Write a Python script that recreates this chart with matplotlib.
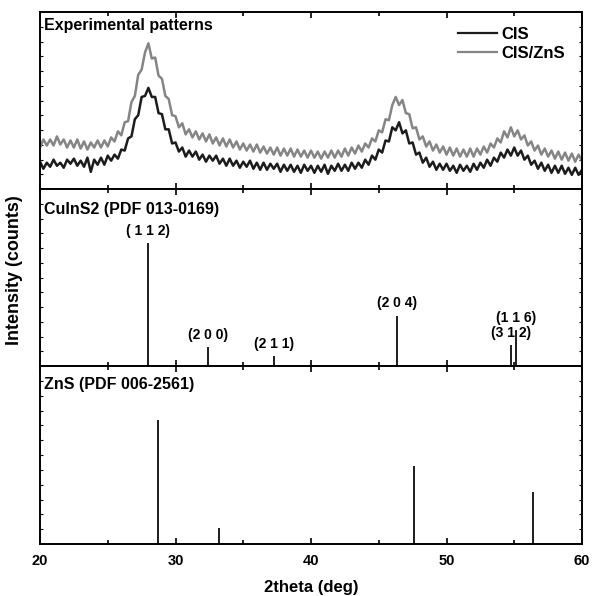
import numpy as np
import matplotlib
matplotlib.use("Agg")
import matplotlib.pyplot as plt
from matplotlib.ticker import MultipleLocator, NullFormatter

plt.rcParams["font.family"] = ["Liberation Sans", "DejaVu Sans"]

# scan axis of the measured patterns (0.25 deg step)
TWO_THETA = np.arange(20.0, 60.0 + 0.001, 0.25)

CIS = [
    27, 20, 26, 22, 29, 23, 26, 21, 29, 25, 30, 23, 28, 22, 31, 17,
    29, 24, 31, 24, 33, 28, 34, 30, 39, 38, 50, 52, 69, 73, 91, 92,
    100, 91, 91, 75, 74, 59, 59, 45, 46, 37, 41, 32, 38, 32, 37, 29,
    34, 27, 33, 28, 33, 25, 30, 23, 30, 23, 28, 21, 27, 22, 28, 20,
    26, 19, 26, 19, 25, 20, 25, 17, 24, 18, 24, 17, 23, 16, 24, 18,
    23, 16, 23, 17, 24, 15, 23, 18, 25, 18, 24, 18, 26, 20, 26, 21,
    29, 24, 33, 29, 39, 36, 48, 47, 61, 58, 66, 55, 58, 45, 46, 34,
    36, 26, 31, 22, 27, 19, 25, 19, 25, 18, 23, 16, 24, 18, 23, 17,
    25, 19, 26, 21, 29, 23, 31, 27, 36, 31, 39, 33, 41, 33, 38, 29,
    33, 24, 28, 20, 26, 18, 24, 16, 23, 16, 23, 15, 21, 14, 21, 14,
    19,
]

CIS_ZNS = [
    41, 49, 43, 49, 43, 52, 44, 49, 41, 48, 41, 49, 40, 47, 39, 46,
    41, 48, 41, 48, 42, 51, 47, 57, 53, 66, 67, 86, 92, 113, 118, 135,
    144, 129, 130, 112, 109, 92, 89, 73, 72, 61, 65, 54, 59, 51, 57, 49,
    55, 47, 54, 45, 51, 43, 50, 42, 49, 41, 47, 39, 45, 38, 44, 37,
    44, 36, 42, 35, 41, 34, 41, 33, 40, 33, 40, 32, 39, 32, 38, 31,
    38, 31, 37, 30, 37, 31, 38, 31, 38, 32, 40, 33, 41, 35, 43, 37,
    45, 41, 50, 47, 58, 56, 69, 68, 83, 91, 83, 88, 75, 74, 60, 61,
    49, 52, 42, 47, 38, 44, 36, 42, 34, 41, 33, 40, 32, 39, 32, 40,
    32, 40, 34, 42, 36, 45, 41, 50, 46, 57, 51, 61, 52, 58, 49, 53,
    43, 47, 38, 43, 34, 40, 32, 38, 30, 37, 29, 36, 28, 35, 27, 34,
    28,
]

# reference cards: peak positions and relative intensities
CUINS2_POS = [27.95, 32.42, 37.30, 46.32, 54.76, 55.13]
CUINS2_INT = [100, 15.5, 8, 41, 17, 29]
CUINS2_HKL = ["( 1 1 2)", "(2 0 0)", "(2 1 1)", "(2 0 4)", "(3 1 2)", "(1 1 6)"]

ZNS_POS = [28.71, 33.19, 47.60, 56.40]
ZNS_INT = [100, 13, 63, 42]

FIG_W, FIG_H = 592, 596
LEFT, RIGHT = 40, 582
EDGES = [12, 189, 366, 544]


def style_axis(ax, ymax, show_labels):
    ax.set_xlim(20, 60)
    ax.set_ylim(0, ymax)
    ax.xaxis.set_major_locator(MultipleLocator(10))
    ax.xaxis.set_minor_locator(MultipleLocator(5))
    ax.set_yticks([])
    ax.set_yticks(np.linspace(0, ymax, 13)[1:-1], minor=True)
    ax.tick_params(axis="x", which="both", direction="in", top=True, bottom=True,
                   width=1.2, labelsize=10.5, pad=7)
    ax.tick_params(axis="x", which="major", length=4.5)
    ax.tick_params(axis="x", which="minor", length=3)
    ax.tick_params(axis="y", which="minor", direction="in", left=True, right=True,
                   length=2.5, width=0.8)
    if not show_labels:
        ax.xaxis.set_major_formatter(NullFormatter())
    for lab in ax.get_xticklabels():
        lab.set_fontweight("bold")
    for sp in ax.spines.values():
        sp.set_linewidth(1.4)


fig = plt.figure(figsize=(FIG_W / 100, FIG_H / 100), dpi=100)
axes = []
for i in range(3):
    top, bottom = EDGES[i], EDGES[i + 1]
    rect = [LEFT / FIG_W, 1 - bottom / FIG_H, (RIGHT - LEFT) / FIG_W, (bottom - top) / FIG_H]
    axes.append(fig.add_axes(rect))
ax_exp, ax_cis, ax_zns = axes

# experimental patterns
ax_exp.plot(TWO_THETA, CIS_ZNS, color="#858585", lw=1.8)
ax_exp.plot(TWO_THETA, CIS, color="#1c1c1c", lw=1.8)
style_axis(ax_exp, 175, False)
ax_exp.text(0.008, 0.925, "Experimental patterns", transform=ax_exp.transAxes,
            fontsize=11.5, fontweight="bold", va="center", ha="left")
h1, = ax_exp.plot([], [], color="#1c1c1c", lw=1.6)
h2, = ax_exp.plot([], [], color="#858585", lw=1.6)
ax_exp.legend([h1, h2], ["CIS", "CIS/ZnS"], loc="upper right", frameon=False,
              bbox_to_anchor=(0.997, 1.0), prop={"size": 12, "weight": "bold"},
              handlelength=2.3, handletextpad=0.3, labelspacing=0.25)

# CuInS2 reference
ax_cis.vlines(CUINS2_POS, 0, CUINS2_INT, color="#1c1c1c", lw=1.4)
style_axis(ax_cis, 144, False)
ax_cis.text(0.008, 0.885, "CuInS2 (PDF 013-0169)", transform=ax_cis.transAxes,
            fontsize=11.5, fontweight="bold", va="center", ha="left")
for pos, inten, hkl in zip(CUINS2_POS, CUINS2_INT, CUINS2_HKL):
    ax_cis.text(pos, inten + 10, hkl, ha="center", va="center",
                fontsize=10, fontweight="bold")

# ZnS reference
ax_zns.vlines(ZNS_POS, 0, ZNS_INT, color="#1c1c1c", lw=1.4)
style_axis(ax_zns, 144, True)
ax_zns.text(0.008, 0.895, "ZnS (PDF 006-2561)", transform=ax_zns.transAxes,
            fontsize=11.5, fontweight="bold", va="center", ha="left")
ax_zns.set_xlabel("2theta (deg)", fontsize=12, fontweight="bold", labelpad=9)

fig.text(15 / FIG_W, 1 - 270 / FIG_H, "Intensity (counts)", rotation=90,
         ha="center", va="center", fontsize=13, fontweight="bold")

fig.savefig("out.png", dpi=100)
